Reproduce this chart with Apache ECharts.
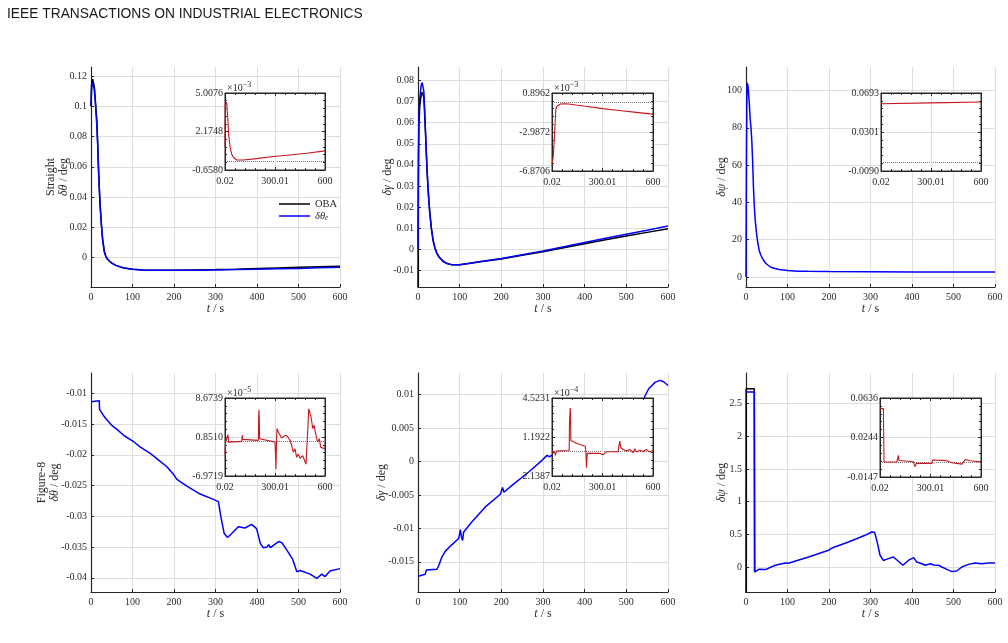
<!DOCTYPE html>
<html>
<head>
<meta charset="utf-8">
<script src="https://cdn.jsdelivr.net/npm/echarts@6/dist/echarts.min.js"></script>
<style>
html, body { margin: 0; padding: 0; background: #fff; }
#main { width: 1008px; height: 643px; }
</style>
</head>
<body>
<div id="main"></div>
<script>
// ---------- data ----------
// Straight, delta theta
var tTL = [0, 1, 2, 4, 6, 8, 10, 12, 14, 16, 18, 20, 22, 25, 28, 32, 36, 40, 45, 50, 60, 70, 80, 100, 125, 150, 200, 250, 300, 350, 400, 450, 500, 550, 600];
var obaTL = [0.1, 0.112, 0.116, 0.118, 0.118, 0.113, 0.106, 0.098, 0.091, 0.077, 0.060, 0.046, 0.035, 0.022, 0.012, 0.004, 0.0005, -0.0012, -0.0025, -0.0037, -0.0052, -0.0062, -0.0069, -0.0078, -0.0082, -0.0084, -0.0084, -0.0082, -0.008, -0.0077, -0.0073, -0.0069, -0.0065, -0.0061, -0.0057];
var estTL = [0.1, 0.108, 0.113, 0.1155, 0.115, 0.111, 0.104, 0.096, 0.087, 0.075, 0.058, 0.045, 0.034, 0.022, 0.012, 0.004, 0.0005, -0.0012, -0.0025, -0.0037, -0.0052, -0.0062, -0.0069, -0.0078, -0.0082, -0.0084, -0.0085, -0.0084, -0.0082, -0.008, -0.0078, -0.0075, -0.0072, -0.0068, -0.0065];
var tTLin = [0.02, 2, 5, 10, 16, 22, 30, 40, 50, 70, 110, 190, 290, 390, 490, 600];
var errTLin = [1.07, 4.15, 4.25, 4.32, 3.28, 1.93, 1.07, 0.52, 0.28, 0.08, 0.08, 0.18, 0.33, 0.45, 0.57, 0.75];

// Straight, delta gamma
var tTM = [0, 1, 2, 4, 6, 8, 10, 12, 14, 16, 18, 20, 22, 25, 28, 32, 36, 40, 45, 50, 60, 70, 80, 90, 100, 125, 150, 200, 250, 300, 350, 400, 450, 500, 550, 600];
var obaTM = [-0.018, 0.035, 0.058, 0.067, 0.071, 0.073, 0.0745, 0.0748, 0.072, 0.064, 0.055, 0.045, 0.036, 0.026, 0.018, 0.010, 0.0045, 0.0010, -0.0018, -0.0035, -0.0057, -0.0068, -0.0073, -0.0074, -0.0073, -0.0066, -0.0059, -0.0046, -0.0029, -0.0012, 0.0007, 0.0026, 0.0045, 0.0063, 0.0080, 0.0097];
var estTM = [0, 0.045, 0.062, 0.071, 0.075, 0.078, 0.079, 0.0785, 0.075, 0.066, 0.056, 0.046, 0.037, 0.026, 0.018, 0.010, 0.0045, 0.0010, -0.0018, -0.0035, -0.0057, -0.0068, -0.0073, -0.0074, -0.0073, -0.0066, -0.0058, -0.0044, -0.0026, -0.0008, 0.0012, 0.0032, 0.0052, 0.0071, 0.0090, 0.0110];
var tTMin = [0.02, 3, 6, 10, 14, 18, 22, 28, 36, 50, 75, 100, 150, 200, 300, 400, 500, 600];
var errTMin = [-6.2, -5.9, -5.6, -4.8, -3.6, -2.3, -0.8, -0.45, -0.3, -0.2, -0.17, -0.2, -0.32, -0.43, -0.66, -0.85, -1.03, -1.21];

// Straight, delta psi
var tTR = [0, 1, 2, 3, 5, 8, 10, 12, 14, 16, 18, 20, 22, 25, 28, 32, 36, 40, 45, 50, 60, 70, 80, 100, 125, 150, 200, 300, 400, 500, 600];
var estTR = [0, 60, 95, 104, 102, 93, 85, 80, 73, 62, 48, 38, 31, 24, 19, 14, 11.5, 9.8, 8, 6.8, 5.2, 4.5, 4.0, 3.4, 3.1, 3.0, 2.85, 2.75, 2.7, 2.7, 2.7];
var tTRin = [0.02, 300, 600];
var errTRin = [0.0585, 0.0594, 0.0602];

// Figure-8, delta theta
var tBL = [0, 20, 20.5, 30, 38.5, 50, 62.6, 80, 102.7, 120, 142.8, 160, 182.9, 199, 201, 207, 231, 263, 295, 307, 313, 321, 329, 339, 355, 371, 387, 399, 408, 415, 424, 428, 432, 452, 460, 472, 486, 496, 504, 508, 528, 544, 556, 564, 576, 600];
var estBL = [-0.01136, -0.0112, -0.0126, -0.0136, -0.01434, -0.0152, -0.01586, -0.0169, -0.01787, -0.0188, -0.01977, -0.0207, -0.02194, -0.0232, -0.0235, -0.0240, -0.0251, -0.02638, -0.02725, -0.0276, -0.0301, -0.0328, -0.03344, -0.0328, -0.0317, -0.0319, -0.0313, -0.032, -0.0344, -0.0351, -0.0350, -0.0346, -0.0351, -0.0341, -0.0343, -0.0355, -0.037, -0.039, -0.0388, -0.0386, -0.0394, -0.0401, -0.0394, -0.0398, -0.0389, -0.0385];
var tBLin = [0.02, 4, 14, 18, 20, 22, 100, 104, 106, 200, 202, 204, 206, 208, 300, 302, 306, 308, 312, 320, 340, 360, 374, 390, 400, 410, 420, 430, 440, 450, 466, 478, 486, 494, 498, 502, 510, 518, 526, 534, 546, 556, 566, 574, 582, 600];
var errBLin = [-2.55, -0.17, 0.17, 1.33, 0.51, -0.17, -0.03, 1.19, 0.37, 0.17, 4.59, 6.29, 4.25, 0.51, -0.17, -1.87, -5.61, -1.53, 2.55, 1.87, 0.65, 1.19, 0.99, 0.17, -0.85, -2.21, -1.53, -3.23, -2.55, -3.44, -2.89, -3.91, -4.59, -4.25, 3.23, 6.50, 5.61, 4.59, 2.55, 3.23, 1.19, -0.17, 0.51, -1.19, -0.85, -1.53];

// Figure-8, delta gamma
var tBM = [0, 17.6, 20, 21.6, 45.6, 50, 57.6, 65.6, 81.6, 97.6, 101.6, 104, 107, 109.6, 129.6, 161.6, 197.6, 203, 206, 225.6, 265.6, 297.6, 309.6, 315, 330, 400, 480, 541.6, 553.6, 569.6, 581.6, 589.6, 600];
var estBM = [-0.01714, -0.01684, -0.0162, -0.01614, -0.0161, -0.0155, -0.01425, -0.0134, -0.01242, -0.01152, -0.01018, -0.0112, -0.0118, -0.01053, -0.0090, -0.0068, -0.0049, -0.0039, -0.0046, -0.00357, -0.00158, 0.00016, 0.0009, 0.0007, 0.0012, 0.004, 0.007, 0.00935, 0.01085, 0.01184, 0.0121, 0.0119, 0.01134];
var tBMin = [0.02, 14, 20, 26, 102, 104, 108, 110, 112, 148, 197, 201, 205, 207, 210, 285, 305, 321, 393, 397, 403, 409, 423, 443, 462, 482, 492, 502, 521, 541, 561, 580, 600];
var errBMin = [-0.01, -0.04, -0.38, -0.01, 0.04, 2.40, 3.67, 3.25, 0.89, 0.64, 0.41, -0.01, -1.43, -0.72, -0.21, -0.21, -0.32, -0.07, -0.07, 0.41, 0.84, 0.27, 0.13, -0.01, 0.13, -0.15, 0.19, -0.10, 0.07, -0.04, 0.13, -0.10, 0.04];

// Figure-8, delta psi
var tBR = [0, 20, 20.8, 30.5, 46.5, 70.6, 94.6, 98.6, 102, 150.8, 198.9, 207, 210, 247, 287, 303, 310, 315, 323, 331, 343, 355, 363, 378, 391, 404, 411, 419, 432, 444, 452, 464, 472, 484, 496, 508, 520, 536, 552, 568, 584, 600];
var estBR = [2.68, 2.68, -0.077, -0.036, -0.04, 0.026, 0.06, 0.077, 0.058, 0.153, 0.255, 0.29, 0.27, 0.383, 0.485, 0.536, 0.53, 0.41, 0.18, 0.10, 0.128, 0.153, 0.11, 0.026, 0.10, 0.143, 0.077, 0.061, 0.026, 0.05, 0.03, 0.026, 0.0, -0.036, -0.071, -0.061, 0.0, 0.04, 0.061, 0.051, 0.061, 0.061];
var tBRoba = [0, 0.3, 20, 20.8];
var obaBR = [-0.5, 2.73, 2.73, -0.07];
var tBRin = [0.02, 20, 24, 99, 105, 109, 113, 199, 203, 209, 215, 308, 312, 318, 377, 397, 427, 457, 487, 497, 507, 536, 600];
var errBRin = [0.0531, 0.0531, 0.0001, 0.0001, 0.0034, 0.0067, 0.0017, 0.0004, -0.0022, -0.0045, -0.0012, -0.0012, 0.0021, 0.0027, 0.0018, 0.0014, -0.0005, -0.0012, -0.0019, -0.0012, 0.0027, 0.0014, 0.0001];

// tick values of the main plots
var ticksTL = [0, 0.02, 0.04, 0.06, 0.08, 0.1, 0.12];
var ticksTM = [-0.01, 0, 0.01, 0.02, 0.03, 0.04, 0.05, 0.06, 0.07, 0.08];
var ticksTR = [0, 20, 40, 60, 80, 100];
var ticksBL = [-0.04, -0.035, -0.03, -0.025, -0.02, -0.015, -0.01];
var ticksBM = [-0.015, -0.01, -0.005, 0, 0.005, 0.01];
var ticksBR = [0, 0.5, 1, 1.5, 2, 2.5];

// inset tick labels
var insetX = ['0.02', '300.01', '600'];
var insetTL = ['-0.6580', '2.1748', '5.0076'];
var insetTM = ['-6.8706', '-2.9872', '0.8962'];
var insetTR = ['-0.0090', '0.0301', '0.0693'];
var insetBL = ['-6.9719', '0.8510', '8.6739'];
var insetBM = ['2.1387', '1.1922', '4.5231'];
var insetBR = ['-0.0147', '0.0244', '0.0636'];
var insetRangeTL = [-0.6580, 5.0076];
var insetRangeTM = [-6.8706, 0.8962];
var insetRangeTR = [-0.0090, 0.0693];
var insetRangeBL = [-6.9719, 8.6739];
var insetRangeBM = [-2.1387, 4.5231];
var insetRangeBR = [-0.0147, 0.0636];

// ---------- chart ----------
var SERIF = '"Liberation Serif", "DejaVu Serif", serif';
var AX = '#262626';
var TXT = '#2b2b2b';
var GRID = '#dedede';
var BLUE = '#0000ff';
var RED = '#c8161d';

var grids = [], xAxes = [], yAxes = [], series = [];

function zip(t, v) {
    return t.map(function (x, i) { return [x, v[i]]; });
}

function richText(size) {
    return {
        i: { fontStyle: 'italic', fontFamily: SERIF, fontSize: size, color: TXT },
        s: { fontStyle: 'italic', fontFamily: SERIF, fontSize: size - 3, color: TXT, padding: [5, 0, 0, 0] },
        sup: { fontFamily: SERIF, fontSize: size - 2, color: TXT, padding: [0, 0, 6, 0] }
    };
}

function numLabel(v) {
    return String(parseFloat(v.toFixed(6)));
}

function addMain(p) {
    var gi = grids.length;
    grids.push({ left: p.left, top: p.top, width: p.width, height: p.height });
    var xi = xAxes.length, yi = yAxes.length;
    xAxes.push({
        gridIndex: gi, type: 'value', min: 0, max: 600, interval: 100,
        axisLine: { onZero: false, lineStyle: { color: AX, width: 1.2 } },
        axisTick: { inside: true, length: 3, lineStyle: { color: AX } },
        axisLabel: { color: TXT, fontFamily: SERIF, fontSize: 10, margin: 5 },
        splitLine: { show: true, lineStyle: { color: GRID } },
        name: '{i|t} / s', nameLocation: 'middle', nameGap: 16, nameMoveOverlap: false,
        nameTextStyle: { color: TXT, fontFamily: SERIF, fontSize: 12, rich: richText(12) }
    });
    yAxes.push({
        gridIndex: gi, type: 'value', min: p.yMin, max: p.yMax,
        axisLine: { show: true, onZero: false, lineStyle: { color: AX, width: 1.2 } },
        axisTick: { show: true, inside: true, length: 3, customValues: p.ticks, lineStyle: { color: AX } },
        axisLabel: { customValues: p.ticks, color: TXT, fontFamily: SERIF, fontSize: 10, margin: 4, formatter: numLabel },
        splitLine: { show: true, lineStyle: { color: GRID } },
        name: p.name, nameLocation: 'middle', nameGap: p.nameGap, nameMoveOverlap: false,
        nameTextStyle: { color: TXT, fontFamily: SERIF, fontSize: 12, lineHeight: 13, rich: richText(12) }
    });
    return { x: xi, y: yi };
}

function lineSeries(name, ax, data, color, z) {
    series.push({
        name: name, type: 'line', xAxisIndex: ax.x, yAxisIndex: ax.y,
        data: data, showSymbol: false, clip: true, z: z || 2,
        lineStyle: { color: color, width: 1.5 }, itemStyle: { color: color }
    });
}

function addInset(p) {
    var gi = grids.length;
    grids.push({
        left: p.left, top: p.top, width: p.width, height: p.height, show: true,
        backgroundColor: '#fff', borderColor: AX, borderWidth: 1, z: 5
    });
    var xi = xAxes.length, yi = yAxes.length;
    var xLab = p.xLabels, yLab = p.yLabels, yr = p.yRange;
    var common = {
        gridIndex: gi, type: 'value', z: 6,
        axisLine: { show: true, onZero: false, lineStyle: { color: AX, width: 1 } },
        axisTick: { show: true, inside: true, length: 3, lineStyle: { color: AX } },
        minorTick: { show: true, splitNumber: 5, length: 2, lineStyle: { color: AX } }
    };
    xAxes.push(Object.assign({}, common, {
        position: 'bottom', min: 0.02, max: 600, interval: 299.99,
        axisLabel: {
            color: TXT, fontFamily: SERIF, fontSize: 10, margin: 6,
            formatter: function (v) { return xLab[Math.round((v - 0.02) / 299.99)]; }
        },
        splitLine: { show: true, lineStyle: { color: GRID } }
    }));
    xAxes.push(Object.assign({}, common, {
        position: 'top', min: 0.02, max: 600, interval: 299.99,
        axisLabel: { show: false }, splitLine: { show: false }
    }));
    var yInt = (yr[1] - yr[0]) / 2;
    yAxes.push(Object.assign({}, common, {
        position: 'left', min: yr[0], max: yr[1], interval: yInt,
        axisLabel: {
            color: TXT, fontFamily: SERIF, fontSize: 10, margin: 2,
            formatter: function (v) { return yLab[Math.round((v - yr[0]) / yInt)]; }
        },
        splitLine: { show: true, lineStyle: { color: GRID } },
        name: p.expo || '', nameLocation: 'end', nameGap: -2, nameMoveOverlap: false,
        nameTextStyle: { align: 'left', color: TXT, fontFamily: SERIF, fontSize: 10, padding: [0, 0, 0, 2], rich: richText(10) }
    }));
    yAxes.push(Object.assign({}, common, {
        position: 'right', min: yr[0], max: yr[1], interval: yInt,
        axisLabel: { show: false }, splitLine: { show: false }
    }));
    series.push({
        name: 'err' + gi, type: 'line', xAxisIndex: xi, yAxisIndex: yi,
        data: p.data, showSymbol: false, clip: true, z: 7,
        lineStyle: { color: RED, width: 1.1 },
        markLine: {
            silent: true, symbol: 'none', animation: false,
            label: { show: false },
            lineStyle: { type: 'dotted', color: '#777', width: 1 },
            data: [{ yAxis: 0 }]
        }
    });
}

// top row: Straight
var aTL = addMain({ left: 91, top: 67, width: 249, height: 220, yMin: -0.0195, yMax: 0.126, ticks: ticksTL, name: 'Straight\n{i|δθ} / deg', nameGap: 20.5 });
lineSeries('OBA', aTL, zip(tTL, obaTL), '#000');
lineSeries('δθe', aTL, zip(tTL, estTL), BLUE, 3);
addInset({ left: 225, top: 93, width: 100, height: 77, xLabels: insetX, yLabels: insetTL, yRange: insetRangeTL, expo: '×10{sup|−3}', data: zip(tTLin, errTLin) });

var aTM = addMain({ left: 418, top: 67, width: 250, height: 220, yMin: -0.0179, yMax: 0.0864, ticks: ticksTM, name: '{i|δγ} / deg', nameGap: 23.5 });
lineSeries('OBA ', aTM, zip(tTM, obaTM), '#000');
lineSeries('est TM', aTM, zip(tTM, estTM), BLUE, 3);
addInset({ left: 552, top: 93, width: 101, height: 78, xLabels: insetX, yLabels: insetTM, yRange: insetRangeTM, expo: '×10{sup|−3}', data: zip(tTMin, errTMin) });

var aTR = addMain({ left: 746, top: 67, width: 249, height: 220, yMin: -5.4, yMax: 112.6, ticks: ticksTR, name: '{i|δψ} / deg', nameGap: 17.5 });
lineSeries('est TR', aTR, zip(tTR, estTR), BLUE, 3);
addInset({ left: 881, top: 93, width: 100, height: 78, xLabels: insetX, yLabels: insetTR, yRange: insetRangeTR, data: zip(tTRin, errTRin) });

// bottom row: Figure-8
var aBL = addMain({ left: 91, top: 373, width: 249, height: 219, yMin: -0.0423, yMax: -0.0067, ticks: ticksBL, name: 'Figure-8\n{i|δθ} / deg', nameGap: 29.5 });
lineSeries('est BL', aBL, zip(tBL, estBL), BLUE, 3);
addInset({ left: 225, top: 398, width: 100, height: 78, xLabels: insetX, yLabels: insetBL, yRange: insetRangeBL, expo: '×10{sup|−5}', data: zip(tBLin, errBLin) });

var aBM = addMain({ left: 418, top: 373, width: 250, height: 219, yMin: -0.0195, yMax: 0.0132, ticks: ticksBM, name: '{i|δγ} / deg', nameGap: 29.5 });
lineSeries('est BM', aBM, zip(tBM, estBM), BLUE, 3);
addInset({ left: 552, top: 398, width: 101, height: 78, xLabels: insetX, yLabels: insetBM, yRange: insetRangeBM, expo: '×10{sup|−4}', data: zip(tBMin, errBMin) });

var aBR = addMain({ left: 746, top: 373, width: 249, height: 219, yMin: -0.383, yMax: 2.97, ticks: ticksBR, name: '{i|δψ} / deg', nameGap: 17.5 });
lineSeries('OBA BR', aBR, zip(tBRoba, obaBR), '#000');
lineSeries('est BR', aBR, zip(tBR, estBR), BLUE, 3);
addInset({ left: 880, top: 398, width: 101, height: 79, xLabels: insetX, yLabels: insetBR, yRange: insetRangeBR, data: zip(tBRin, errBRin) });

var option = {
    animation: false,
    backgroundColor: '#fff',
    graphic: [{
        type: 'text', left: 7, top: 7,
        style: { text: 'IEEE TRANSACTIONS ON INDUSTRIAL ELECTRONICS', font: '13.8px "Liberation Sans", Arial, sans-serif', fill: '#1a1a1a' }
    }],
    legend: {
        data: [{ name: 'OBA', icon: 'rect' }, { name: 'δθe', icon: 'rect' }],
        left: 274, top: 193, orient: 'vertical',
        itemWidth: 31, itemHeight: 1.5, itemGap: 0,
        selectedMode: false,
        textStyle: { color: TXT, fontFamily: SERIF, fontSize: 10.5, lineHeight: 12, rich: richText(10.5) },
        formatter: function (n) { return n === 'OBA' ? 'OBA' : '{i|δθ}{s|e}'; }
    },
    grid: grids,
    xAxis: xAxes,
    yAxis: yAxes,
    series: series
};

var myChart = echarts.init(document.getElementById('main'));
option && myChart.setOption(option);
</script>
</body>
</html>
